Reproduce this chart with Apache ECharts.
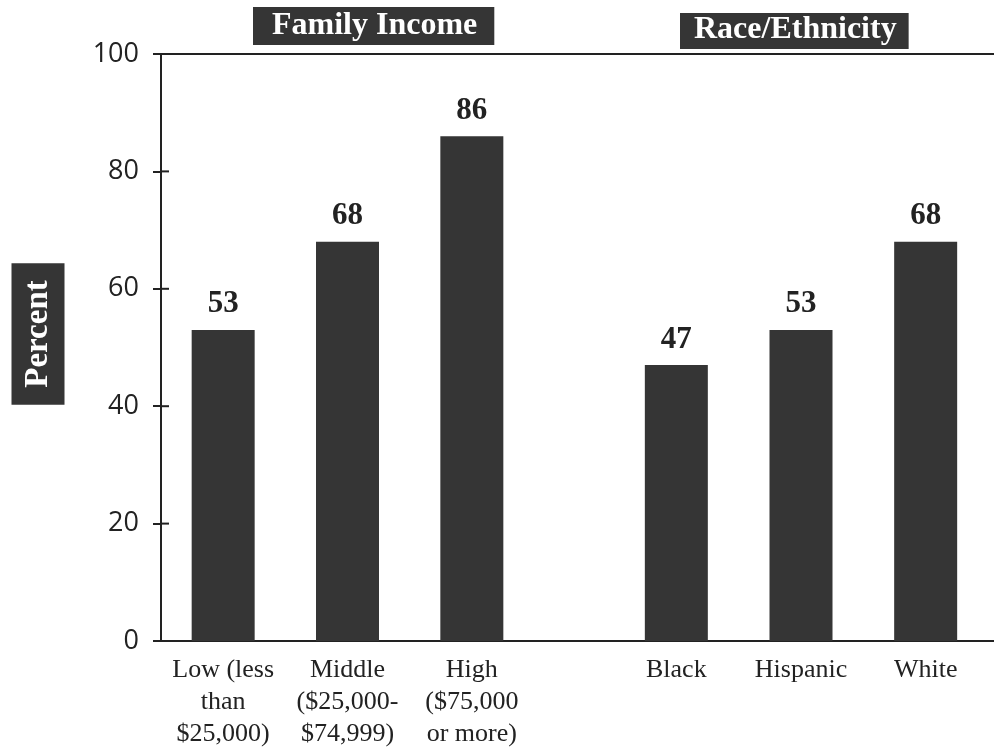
<!DOCTYPE html>
<html>
<head>
<meta charset="utf-8">
<script src="https://cdn.jsdelivr.net/npm/echarts@6/dist/echarts.min.js"></script>
<style>
  html, body { margin: 0; padding: 0; background: #fff; }
  #chart { width: 994px; height: 747px; }
</style>
</head>
<body>
<div id="chart"></div>
<script>
// Share of students (percent) by family income and by race/ethnicity
const incomeCategories = ['Low (less\nthan\n$25,000)', 'Middle\n($25,000-\n$74,999)', 'High\n($75,000\nor more)'];
const incomeValues = [53, 68, 86];
const raceCategories = ['Black', 'Hispanic', 'White'];
const raceValues = [47, 53, 68];
const yTicks = [0, 20, 40, 60, 80, 100];
const panelTitles = ['Family Income', 'Race/Ethnicity'];
const yAxisTitle = 'Percent';

const INK = '#222';
const BAR = '#353535';
const SERIF = '"Liberation Serif", "Times New Roman", serif';
const SANS = '"Open Sans", "Lato", sans-serif';

const chart = echarts.init(document.getElementById('chart'), null, { renderer: 'canvas' });

const FRAME_LEFT = 161, FRAME_RIGHT = -6;
const TOP = 54, BOTTOM = 106;
const Y_MIN = yTicks[0], Y_MAX = yTicks[yTicks.length - 1];
const TICK_HALF = 8;

function panelXAxis(gridIndex, cats) {
  return {
    type: 'category', gridIndex, data: cats,
    axisLine: { show: false }, axisTick: { show: false },
    axisLabel: {
      color: INK, fontFamily: SERIF, fontSize: 26, lineHeight: 32,
      margin: 13, interval: 0
    }
  };
}
function barSeries(idx, values) {
  return {
    type: 'bar', xAxisIndex: idx, yAxisIndex: idx, data: values,
    barWidth: 63, itemStyle: { color: BAR },
    label: {
      show: true, position: 'top', distance: 10,
      color: INK, fontFamily: SERIF, fontWeight: 'bold', fontSize: 31
    }
  };
}
const tickStyle = { color: INK, width: 2 };

chart.setOption({
  animation: false,
  backgroundColor: '#fff',
  title: [
    {
      text: panelTitles[0], left: 253, top: 7,
      backgroundColor: BAR, padding: [3, 17, 3, 19],
      textStyle: { color: '#fff', fontFamily: SERIF, fontWeight: 'bold', fontSize: 32 }
    },
    {
      text: panelTitles[1], left: 680, top: 13,
      backgroundColor: BAR, padding: [1, 12, 3, 14],
      textStyle: { color: '#fff', fontFamily: SERIF, fontWeight: 'bold', fontSize: 32 }
    }
  ],
  graphic: [{
    id: 'yTitle',
    type: 'text', x: 38, y: 334, rotation: Math.PI / 2,
    style: {
      text: yAxisTitle, align: 'center', verticalAlign: 'middle',
      fill: '#fff', backgroundColor: BAR, padding: [11, 17, 9, 17],
      font: 'bold 33px ' + SERIF
    }
  }],
  grid: [
    // plot frame (its right edge runs past the page) carrying the value scale
    { left: FRAME_LEFT, right: FRAME_RIGHT, top: TOP, bottom: BOTTOM, outerBoundsMode: 'none',
      show: true, borderColor: INK, borderWidth: 2, backgroundColor: 'transparent' },
    // family income panel
    { left: 161, width: 373, top: TOP, bottom: BOTTOM, outerBoundsMode: 'none' },
    // race/ethnicity panel
    { left: 614, width: 374, top: TOP, bottom: BOTTOM, outerBoundsMode: 'none' }
  ],
  xAxis: [
    { type: 'value', gridIndex: 0, min: 0, max: 1, show: false },
    panelXAxis(1, incomeCategories),
    panelXAxis(2, raceCategories)
  ],
  yAxis: [
    {
      type: 'value', gridIndex: 0, min: Y_MIN, max: Y_MAX, interval: 20, position: 'left',
      splitLine: { show: false },
      axisLine: { show: false },
      axisTick: { show: true, inside: false, length: TICK_HALF, lineStyle: tickStyle },
      axisLabel: { color: INK, fontFamily: SANS, fontSize: 27, margin: 22 }
    },
    { type: 'value', gridIndex: 1, min: Y_MIN, max: Y_MAX, show: false },
    { type: 'value', gridIndex: 2, min: Y_MIN, max: Y_MAX, show: false }
  ],
  series: [
    barSeries(1, incomeValues),
    barSeries(2, raceValues)
  ]
});

// Inner halves of the cross-shaped ticks, placed through the value axis scale
const edgeX = chart.convertToPixel({ xAxisIndex: 0 }, 0);
const innerTicks = yTicks.slice(1, -1).map(function (v) {
  const y = chart.convertToPixel({ yAxisIndex: 0 }, v);
  return {
    type: 'line', silent: true,
    shape: { x1: edgeX, y1: y, x2: edgeX + TICK_HALF, y2: y },
    style: { stroke: INK, lineWidth: 2 }
  };
});
chart.setOption({ graphic: innerTicks.map(function (g, i) { return Object.assign({ id: 'tick' + i }, g); }) });
</script>
</body>
</html>
